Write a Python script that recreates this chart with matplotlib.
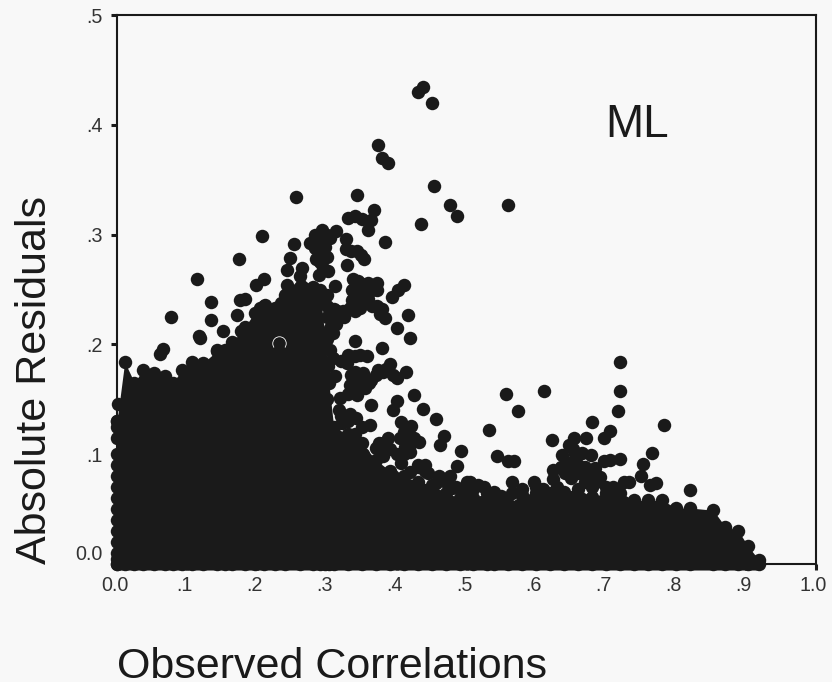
import numpy as np
import matplotlib.pyplot as plt
from matplotlib.transforms import ScaledTranslation

plt.rcParams['font.family'] = ['Liberation Sans', 'DejaVu Sans']

# Upper edge of the solid mass of points
edge_x = [0, .011, .025, .037, .053, .068, .08, .093, .107, .123, .143, .155, .165, .183, .197,
          .21, .226, .24, .262, .281, .29, .297, .303, .31, .33, .35, .37, .39, .41, .43,
          .45, .47, .49, .51, .53, .54, .56, .58, .60, .62, .64, .66, .68, .70, .72,
          .74, .76, .78, .80, .82, .853, .87, .889, .903, .918]
edge_y = [.13, .184, .165, .177, .174, .171, .165, .177, .184, .183, .194, .195, .202, .216, .229,
          .235, .233, .245, .262, .252, .25, .21, .165, .125, .118, .11, .095, .085, .08, .075,
          .072, .065, .06, .06, .065, .061, .055, .063, .065, .065, .066, .068, .061, .065, .065,
          .058, .058, .058, .051, .051, .049, .034, .03, .016, .004]

# Separate points above the mass, upper middle of the plot
upper_x = [.43, .438, .451, .373, .379, .388, .454, .476, .487, .435, .56, .343, .256, .368, .363,
           .359, .331, .34, .35, .383, .293, .283, .276, .283, .297, .313, .327, .327, .343, .354,
           .329, .253, .248, .243, .264, .291, .302, .289, .312, .337, .336, .359, .372, .41, .402,
           .394, .359, .379, .383, .347, .333, .416, .4, .419, .34, .379, .323, .314, .309, .297]
upper_y = [.43, .434, .42, .382, .37, .365, .344, .327, .317, .31, .327, .336, .334, .322, .313,
           .304, .315, .317, .314, .293, .304, .3, .292, .288, .289, .303, .296, .287, .285, .278,
           .272, .291, .279, .268, .27, .275, .267, .263, .253, .26, .25, .256, .256, .254, .25,
           .243, .241, .232, .224, .233, .233, .227, .215, .206, .203, .197, .23, .219, .21, .201]

# Points that join up the main cluster and its arms
cluster_x = [.288, .29, .3, .305, .295, .285, .29, .3, .285, .295, .3, .29, .3, .31, .315, .325,
             .335, .349, .345, .35, .365, .372, .336, .34, .345, .35, .352, .365, .372, .376,
             .3, .305, .312, .3, .305, .302, .295, .3, .318, .322]
cluster_y = [.3, .293, .3, .297, .295, .295, .285, .28, .278, .27, .245, .24, .235, .232, .23, .225,
             .285, .281, .258, .255, .25, .25, .24, .23, .24, .245, .24, .235, .235, .228,
             .225, .215, .222, .205, .195, .18, .185, .15, .14, .128]

# Points left of the main cluster
left_x = [.207, .175, .115, .134, .134, .077, .118, .151, .21, .199, .176, .183, .172, .177, .212,
          .204, .143, .061, .066, .119, .243, .235, .002, 0, 0, 0, 0, 0, 0, 0]
left_y = [.299, .278, .26, .239, .222, .225, .208, .212, .26, .254, .24, .241, .227, .212, .236,
          .233, .195, .191, .196, .206, .254, .238, .146, .125, .1, .08, .05, .03, .01, 0]

# Column of points on the y axis, closes the left side of the mass
axis_y = [.13, .115, .09, .07, .06, .04, .02, .005]

# Points right of the main cluster, falling towards .5
mid_x = [.309, .34, .357, .329, .391, .413, .4, .374, .352, .364, .333, .344, .355, .312, .294,
         .319, .364, .362, .4, .395, .425, .438, .457, .468, .462, .492, .487, .477, .407, .42,
         .432, .387, .417, .412, .419, .333, .342, .445, .457, .5, .479, .371, .407, .419, .352,
         .34, .38, .395, .32, .33, .348, .34, .345, .35, .36, .34, .335, .33, .34, .38, .385,
         .395, .37, .41, .425, .415, .405, .41, .42, .38, .39, .4, .375, .43, .44, .35, .33, .32]
mid_y = [.188, .189, .189, .183, .182, .175, .169, .177, .174, .168, .163, .154, .16, .171, .174,
         .151, .145, .127, .148, .14, .154, .141, .132, .117, .108, .103, .089, .08, .129, .126,
         .111, .115, .118, .107, .102, .137, .133, .083, .074, .075, .069, .106, .092, .084, .1,
         .118, .098, .08, .185, .19, .19, .175, .17, .165, .165, .165, .172, .155, .16, .175, .178,
         .172, .172, .12, .115, .11, .115, .1, .11, .11, .105, .1, .11, .09, .09, .125, .13, .135]

# Points above the mass on the right
right_x = [.72, .72, .717, .611, .557, .573, .532, .782, .679, .706, .697, .622, .671, .654, .646,
           .636, .665, .678, .697, .72, .766, .752, .75, .771, .763, .82, .543, .56, .568,
           .565, .597, .565, .505, .516, .624, .624, .641, .66, .684, .691, .725, .732,
           .43, .44, .46, .47, .485, .495, .51, .525, .54, .55, .58, .6, .61, .63, .65, .67,
           .68, .7, .71, .645, .655, .66, .67, .675, .65, .635, .685, .655, .652, .705]
right_y = [.184, .158, .139, .158, .155, .139, .122, .127, .129, .121, .115, .113, .115, .115, .108,
           .099, .101, .099, .094, .096, .101, .091, .08, .074, .072, .067, .098, .094, .094,
           .075, .075, .065, .075, .072, .086, .077, .083, .083, .087, .079, .075, .075,
           .088, .085, .08, .075, .07, .065, .068, .07, .066, .062, .068, .07, .068, .07, .078, .075,
           .07, .07, .07, .092, .095, .09, .088, .078, .085, .088, .075, .1, .105, .095]

# The one point whose outline shows inside the cluster, and the one lying over it
ring_x = [.232]
ring_y = [.201]
cover_x = [.232]
cover_y = [.194]

x_ticks = [0, .1, .2, .3, .4, .5, .6, .7, .8, .9, 1.0]
x_labels = ['0.0', '.1', '.2', '.3', '.4', '.5', '.6', '.7', '.8', '.9', '1.0']
y_ticks = [0, .1, .2, .3, .4, .5]
y_labels = ['0.0', '.1', '.2', '.3', '.4', '.5']

dark = '#1a1a1a'
paper = '#f8f8f8'
size = 94

fig = plt.figure(figsize=(8.32, 6.82), dpi=100, facecolor=paper)
ax = fig.add_axes([117 / 832, 1 - 564 / 682, 699 / 832, 549 / 682], facecolor=paper)

ax.fill_between(edge_x, -.0055, edge_y, color=dark, lw=0, zorder=3, clip_on=False)
for xs, ys in [(edge_x, edge_y), (edge_x, np.zeros(len(edge_x))), (np.zeros(len(axis_y)), axis_y),
               (upper_x, upper_y), (cluster_x, cluster_y), (left_x, left_y),
               (mid_x, mid_y), (right_x, right_y)]:
    ax.scatter(xs, ys, s=size, color=dark, lw=0, zorder=3, clip_on=False)
ax.scatter(ring_x, ring_y, s=size, color=dark, edgecolors='white', lw=.6, zorder=4)
ax.scatter(cover_x, cover_y, s=size, color=dark, lw=0, zorder=5)

ax.set_xlim(0, 1)
ax.set_ylim(0, .5)
for side in ax.spines.values():
    side.set_linewidth(1.5)
    side.set_color(dark)

ax.set_xticks(x_ticks, x_labels)
ax.set_yticks(y_ticks, y_labels)
ax.tick_params(axis='both', length=4.3, width=2.2, color=dark, labelsize=14.2, labelcolor='#333333')
ax.tick_params(axis='x', pad=4)
ax.tick_params(axis='y', pad=6)

# labels sit slightly off their ticks in the original
for lab in ax.get_xticklabels():
    lab.set_transform(lab.get_transform() + ScaledTranslation(-2.5 / 100, 0, fig.dpi_scale_trans))
zero_lab = ax.get_yticklabels()[0]
zero_lab.set_transform(zero_lab.get_transform() + ScaledTranslation(0, 12 / 100, fig.dpi_scale_trans))

ax.text(.699, .4, 'ML', fontsize=33, color=dark, ha='left', va='center')
fig.text(117 / 832, 1 - 678 / 682, 'Observed Correlations', fontsize=31, color=dark, ha='left', va='baseline')
fig.text(46 / 832, 1 - 564 / 682, 'Absolute Residuals', fontsize=31, color=dark, rotation=90,
         ha='left', va='baseline', rotation_mode='anchor')

fig.savefig('out.png', dpi=100, facecolor=paper)
